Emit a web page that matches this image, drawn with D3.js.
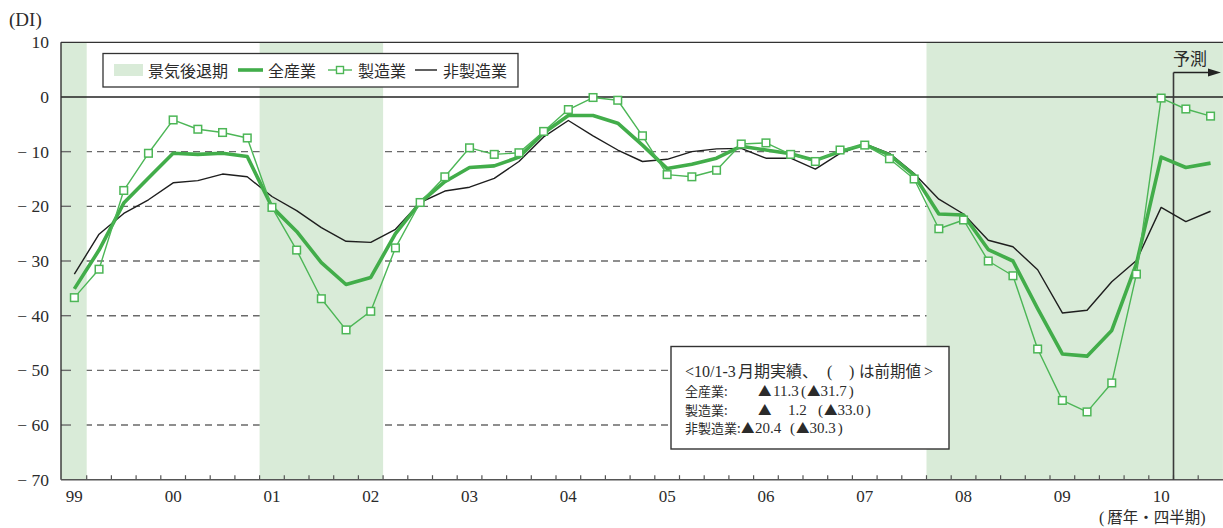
<!DOCTYPE html>
<html><head><meta charset="utf-8">
<script src="https://cdn.jsdelivr.net/npm/d3@7"></script>
<style>
html,body{margin:0;padding:0;background:#fff;}
svg{display:block;}
text{font-family:"Liberation Serif","Noto Sans CJK JP",serif;fill:#2b2b2b;}
.jp{font-family:"Noto Sans CJK JP","Liberation Serif",sans-serif;}
</style></head>
<body>
<svg id="c" width="1223" height="528"></svg>
<script>
// ---- data ----
const years = ["99","00","01","02","03","04","05","06","07","08","09","10"];
const quarters = years.flatMap(y => ["Q1","Q2","Q3","Q4"].map(q => y + q)).slice(0, 47);
// 全産業
const allIndustries = [-35.1,-28.0,-19.4,-14.8,-10.3,-10.5,-10.3,-10.9,-20.1,-24.6,-30.3,-34.3,-33.0,-25.0,-19.3,-15.5,
  -12.9,-12.6,-11.0,-6.6,-3.4,-3.4,-4.8,-8.8,-13.1,-12.3,-11.2,-9.0,-9.7,-10.4,-11.6,-10.0,
  -8.7,-10.6,-14.3,-21.4,-21.6,-27.9,-30.0,-38.7,-47.0,-47.4,-42.7,-30.5,-11.0,-12.9,-12.1];
// 製造業
const manufacturing = [-36.7,-31.5,-17.1,-10.3,-4.2,-5.9,-6.5,-7.5,-20.2,-28.0,-36.9,-42.6,-39.2,-27.6,-19.3,-14.6,
  -9.3,-10.5,-10.2,-6.3,-2.3,-0.1,-0.6,-7.1,-14.2,-14.6,-13.4,-8.6,-8.4,-10.5,-11.8,-9.7,
  -8.8,-11.3,-15.0,-24.1,-22.5,-30.0,-32.7,-46.1,-55.5,-57.6,-52.3,-32.4,-0.2,-2.2,-3.5];
// 非製造業
const nonManufacturing = [-32.4,-25.1,-21.3,-18.8,-15.7,-15.3,-14.1,-14.6,-18.2,-20.8,-23.9,-26.4,-26.6,-24.2,-19.3,-17.2,
  -16.5,-14.9,-11.8,-7.3,-4.3,-7.1,-9.7,-11.8,-11.4,-10.0,-9.5,-9.4,-11.2,-11.2,-13.2,-10.3,
  -8.6,-10.3,-14.0,-18.7,-21.4,-26.2,-27.4,-31.6,-39.5,-39.0,-33.8,-29.9,-20.2,-22.8,-20.9];
// 景気後退期 (first quarter, last quarter)
const recessions = [["99Q1","99Q1"],["01Q1","02Q1"],["07Q4","10Q3"]];
const forecastStart = "10Q2";
const yTicks = [10,0,-10,-20,-30,-40,-50,-60,-70];
const gridValues = [-10,-20,-30,-40,-50,-60];
const seriesNames = ["全産業","製造業","非製造業"];
const noteRows = [
  {name:"全産業:", val:"11.3", prev:"31.7"},
  {name:"製造業:", val:"1.2", prev:"33.0"},
  {name:"非製造業:", val:"20.4", prev:"30.3"}
];

// ---- layout ----
const svg = d3.select("#c");
const plotL = 62, cell = 24.7, plotT = 42.3, plotB = 479.7;
const x = d3.scaleBand().domain(quarters).range([plotL, plotL + cell * quarters.length]).padding(0);
const cx = q => x(q) + x.bandwidth() / 2;
const y = d3.scaleLinear().domain([-70, 10]).range([plotB, plotT]);
const W = 1223;

const GREEN = "#42ad4a", GREEN2 = "#4cb656", SHADE = "#d9ebd8";

// gridlines (under shading)
svg.append("g").selectAll("line").data(gridValues).join("line")
  .attr("x1", 61).attr("x2", W).attr("y1", d => y(d)).attr("y2", d => y(d))
  .attr("stroke", "#6a6a6a").attr("stroke-width", 1.4).attr("stroke-dasharray", "7,5");

// shading
svg.append("g").selectAll("rect").data(recessions).join("rect")
  .attr("x", d => d[0] === quarters[0] ? 61 : x(d[0]))
  .attr("width", d => x(d[1]) + x.bandwidth() - (d[0] === quarters[0] ? 61 : x(d[0])))
  .attr("y", plotT).attr("height", plotB - plotT)
  .attr("fill", SHADE);

// y inward ticks
svg.append("g").selectAll("line").data(gridValues).join("line")
  .attr("x1", 61).attr("x2", 71).attr("y1", d => y(d)).attr("y2", d => y(d))
  .attr("stroke", "#6a6a6a").attr("stroke-width", 1.4);

// zero line
svg.append("line").attr("x1", 61).attr("x2", W).attr("y1", y(0)).attr("y2", y(0))
  .attr("stroke", "#222").attr("stroke-width", 1.3);
// top border
svg.append("line").attr("x1", 61).attr("x2", W).attr("y1", plotT).attr("y2", plotT)
  .attr("stroke", "#333").attr("stroke-width", 1.2);
// left axis
svg.append("line").attr("x1", 61).attr("x2", 61).attr("y1", plotT).attr("y2", plotB)
  .attr("stroke", "#333").attr("stroke-width", 1.4);
// x axis
svg.append("line").attr("x1", 61).attr("x2", W).attr("y1", plotB).attr("y2", plotB)
  .attr("stroke", "#555").attr("stroke-width", 1.4);
svg.append("g").selectAll("line").data(quarters.slice(1)).join("line")
  .attr("x1", d => x(d)).attr("x2", d => x(d)).attr("y1", plotB).attr("y2", plotB - 4.5)
  .attr("stroke", "#555").attr("stroke-width", 1.2);

// y labels
svg.append("g").selectAll("text").data(yTicks).join("text")
  .attr("x", 49).attr("y", d => y(d) + 6).attr("text-anchor", "end")
  .attr("font-size", 17.5)
  .text(d => d < 0 ? "− " + Math.abs(d) : String(d));
svg.append("text").attr("x", 9).attr("y", 26).attr("font-size", 19).text("(DI)");

// x labels
svg.append("g").selectAll("text").data(years).join("text")
  .attr("x", d => cx(d + "Q1")).attr("y", 501.5).attr("text-anchor", "middle")
  .attr("font-size", 17).text(d => d);
const xt = svg.append("text").attr("x", 1099).attr("y", 523).attr("font-size", 16);
xt.append("tspan").text("(");
xt.append("tspan").attr("class", "jp").attr("dx", 3).attr("font-size", 15.5).text("暦年・四半期");
xt.append("tspan").text(")");

// forecast marker
const fx = x(forecastStart);
svg.append("line").attr("x1", fx).attr("x2", fx).attr("y1", 72.5).attr("y2", plotB)
  .attr("stroke", "#3a3a3a").attr("stroke-width", 1.6);
svg.append("line").attr("x1", fx).attr("x2", 1209).attr("y1", 72.5).attr("y2", 72.5)
  .attr("stroke", "#222").attr("stroke-width", 1.4);
svg.append("path").attr("d", `M1208,68.5 L1221,72.5 L1208,76.5 Z`).attr("fill", "#222");
svg.append("text").attr("x", 1173).attr("y", 64.5).attr("font-size", 17).attr("class", "jp").text("予測");

// lines
const line = d3.line().x((d, i) => cx(quarters[i])).y(d => y(d));
svg.append("path").datum(nonManufacturing).attr("d", line)
  .attr("fill", "none").attr("stroke", "#1e1e1e").attr("stroke-width", 1.4).attr("stroke-linejoin", "round");
svg.append("path").datum(allIndustries).attr("d", line)
  .attr("fill", "none").attr("stroke", GREEN).attr("stroke-width", 3.6).attr("stroke-linejoin", "round");
svg.append("path").datum(manufacturing).attr("d", line)
  .attr("fill", "none").attr("stroke", GREEN2).attr("stroke-width", 1.4).attr("stroke-linejoin", "round");
svg.append("g").selectAll("rect").data(manufacturing).join("rect")
  .attr("x", (d, i) => cx(quarters[i]) - 3.8).attr("y", d => y(d) - 3.8)
  .attr("width", 7.6).attr("height", 7.6)
  .attr("fill", "#fff").attr("stroke", GREEN2).attr("stroke-width", 1.5);

// legend
const lg = svg.append("g");
lg.append("rect").attr("x", 103).attr("y", 53.5).attr("width", 415).attr("height", 33.5)
  .attr("fill", "#fff").attr("stroke", "#333").attr("stroke-width", 1.3);
lg.append("rect").attr("x", 114).attr("y", 64).attr("width", 29).attr("height", 12).attr("fill", SHADE);
lg.append("text").attr("class", "jp").attr("x", 148).attr("y", 76.5).attr("font-size", 16).text("景気後退期");
lg.append("line").attr("x1", 238).attr("x2", 263).attr("y1", 70).attr("y2", 70).attr("stroke", GREEN).attr("stroke-width", 3.6);
lg.append("text").attr("class", "jp").attr("x", 268).attr("y", 76.5).attr("font-size", 16).text(seriesNames[0]);
lg.append("line").attr("x1", 328).attr("x2", 352).attr("y1", 70).attr("y2", 70).attr("stroke", GREEN2).attr("stroke-width", 1.4);
lg.append("rect").attr("x", 336.5).attr("y", 66.5).attr("width", 7).attr("height", 7).attr("fill", "#fff").attr("stroke", GREEN2).attr("stroke-width", 1.4);
lg.append("text").attr("class", "jp").attr("x", 358).attr("y", 76.5).attr("font-size", 16).text(seriesNames[1]);
lg.append("line").attr("x1", 415).attr("x2", 437).attr("y1", 70).attr("y2", 70).attr("stroke", "#1e1e1e").attr("stroke-width", 1.4);
lg.append("text").attr("class", "jp").attr("x", 443).attr("y", 76.5).attr("font-size", 16).text(seriesNames[2]);

// note box
const nb = svg.append("g");
nb.append("rect").attr("x", 671).attr("y", 346.5).attr("width", 278).attr("height", 102.5)
  .attr("fill", "#fff").attr("stroke", "#333").attr("stroke-width", 1.4);
function put(xx, yy, s, jp, size) {
  const t = nb.append("text").attr("x", xx).attr("y", yy).attr("font-size", size || (jp ? 13 : 16)).text(s);
  if (jp) t.attr("class", "jp");
  return t;
}
// title
put(685, 377, "<10/1-3");
put(738, 377, "月期実績、", true, 16);
put(827, 377, "(");
put(849, 377, ")");
put(859, 377, "は前期値", true, 15.5);
put(924, 377, ">");
const rowY = [396, 414.5, 433];
const triX = [758, 758, 741];
const numX = [773, 788, 755];
const prevX = [801, 818, 790];
noteRows.forEach((r, i) => {
  put(685, rowY[i], r.name, true, 13);
  put(triX[i], rowY[i], "▲", true, 13.5);
  put(numX[i], rowY[i], r.val, false, 15);
  const p = nb.append("text").attr("x", prevX[i]).attr("y", rowY[i]).attr("font-size", 15);
  p.append("tspan").text("(");
  p.append("tspan").attr("class", "jp").attr("font-size", 13.5).attr("dx", 1).text("▲");
  p.append("tspan").text(r.prev);
  p.append("tspan").attr("dx", 2).text(")");
});
</script>
</body></html>
